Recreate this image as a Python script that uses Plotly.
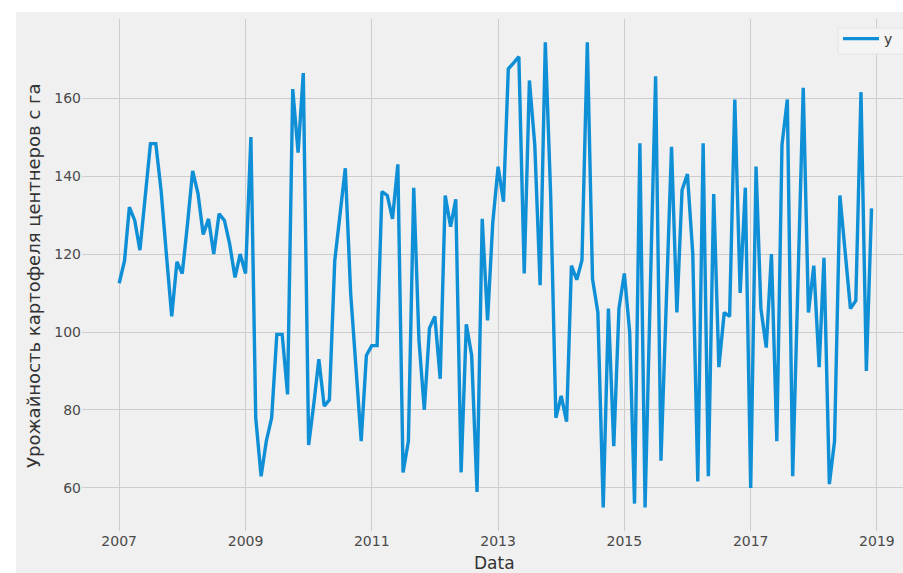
import pandas as pd
import plotly.graph_objects as go

# ---- data (monthly, Jan 2007 - Dec 2018) ----
y2007 = [112.5, 118.3, 132, 128.6, 121, 135, 148.3, 148.3, 136, 120, 104, 118]
y2008 = [115, 128, 141.3, 135.5, 125, 129, 120, 130.3, 128.6, 122.6, 114, 120]
y2009 = [115, 150, 78, 63, 72, 78, 99.4, 99.4, 84, 162.3, 146, 166.4]
y2010 = [71, 82, 93, 81, 82.6, 118.3, 130, 142, 110, 90, 72, 94]
y2011 = [96.5, 96.5, 136, 135, 129, 143, 64, 72, 137, 98, 80, 101]
y2012 = [104, 88, 135, 127, 134, 64, 102, 94, 59, 129, 103, 128]
y2013 = [142.4, 133.4, 167.5, 169, 170.6, 115, 164.5, 148, 112, 174.3, 135, 78]
y2014 = [83.6, 77, 117, 113.4, 118.4, 174.3, 113.6, 105, 55, 106, 70.7, 106]
y2015 = [115, 100, 56, 148.4, 55, 112, 165.6, 67, 108, 147.5, 105, 136.4]
y2016 = [140.5, 120, 61.7, 148.4, 63, 135.4, 91, 105, 104, 159.6, 110, 137]
y2017 = [60, 142.4, 106, 96, 120, 72, 148, 159.6, 63, 112, 162.6, 105]
y2018 = [117, 91, 119, 61, 72, 135, 121, 106, 108, 161.5, 90, 131.7]

start_month = "2007-01-01"
x_tick_years = [2007, 2009, 2011, 2013, 2015, 2017, 2019]
y_ticks = [60, 80, 100, 120, 140, 160]
series_name = "y"
x_title = "Data"
y_title = "Урожайность картофеля центнеров с га"

values = (y2007 + y2008 + y2009 + y2010 + y2011 + y2012 +
          y2013 + y2014 + y2015 + y2016 + y2017 + y2018)
dates = pd.date_range(start_month, periods=len(values), freq="MS")

W, H = 903, 573
ML, MR, MT, MB = 82, 0, 19, 42
pw = W - ML - MR
ph = H - MT - MB


def px_x(p):
    return (p - ML) / pw


def px_y(p):
    return 1 - (p - MT) / ph


fig = go.Figure()
fig.add_trace(go.Scatter(
    x=dates, y=values, mode="lines", name=series_name,
    line=dict(color="#0f8fd6", width=3.4),
))

tick_color = "#4a4a4a"
fig.update_layout(
    width=W, height=H,
    margin=dict(l=ML, r=MR, t=MT, b=MB, pad=0, autoexpand=False),
    paper_bgcolor="#ffffff",
    plot_bgcolor="#f0f0f0",
    font=dict(family="DejaVu Sans", color=tick_color),
    showlegend=True,
    legend=dict(
        x=px_x(838), y=px_y(23),
        xanchor="left", yanchor="top",
        bgcolor="rgba(0,0,0,0)", borderwidth=0,
        font=dict(size=14, color="#333333"),
        itemwidth=36, tracegroupgap=0,
    ),
    shapes=[
        dict(type="rect", xref="paper", yref="paper", layer="below",
             x0=px_x(16), x1=1.05, y0=-0.2, y1=px_y(12),
             fillcolor="#f0f0f0", line=dict(width=0)),
        dict(type="rect", xref="paper", yref="paper", layer="above",
             x0=px_x(838), x1=px_x(906), y0=px_y(54), y1=px_y(28),
             fillcolor="#f4f4f4", line=dict(width=1, color="#e4e4e4")),
    ],
    annotations=[
        dict(text=y_title, xref="paper", yref="paper",
             x=px_x(33), y=px_y(276), xanchor="center", yanchor="middle",
             textangle=-90, showarrow=False,
             font=dict(size=18, color="#333333")),
        dict(text=x_title, xref="paper", yref="paper",
             x=px_x(495), y=px_y(563), xanchor="center", yanchor="middle",
             showarrow=False, font=dict(size=17, color="#333333")),
    ],
)

fig.update_xaxes(
    range=["2006-05-31", "2019-06-01"],
    tickvals=[f"{y}-01-01" for y in x_tick_years],
    ticktext=[str(y) for y in x_tick_years],
    showgrid=True, gridcolor="#cdcdcd", gridwidth=1,
    zeroline=False, showline=False, ticks="",
    tickfont=dict(size=14, color=tick_color),
    automargin=False,
)
fig.update_yaxes(
    range=[48.97, 180.26],
    tickvals=y_ticks,
    showgrid=True, gridcolor="#cdcdcd", gridwidth=1,
    zeroline=False, showline=False, ticks="",
    tickfont=dict(size=14, color=tick_color),
    automargin=False,
)

fig.write_html(
    "out.html",
    config={"displayModeBar": False},
    post_script="document.body.style.margin='0';document.body.style.overflow='hidden';",
)
